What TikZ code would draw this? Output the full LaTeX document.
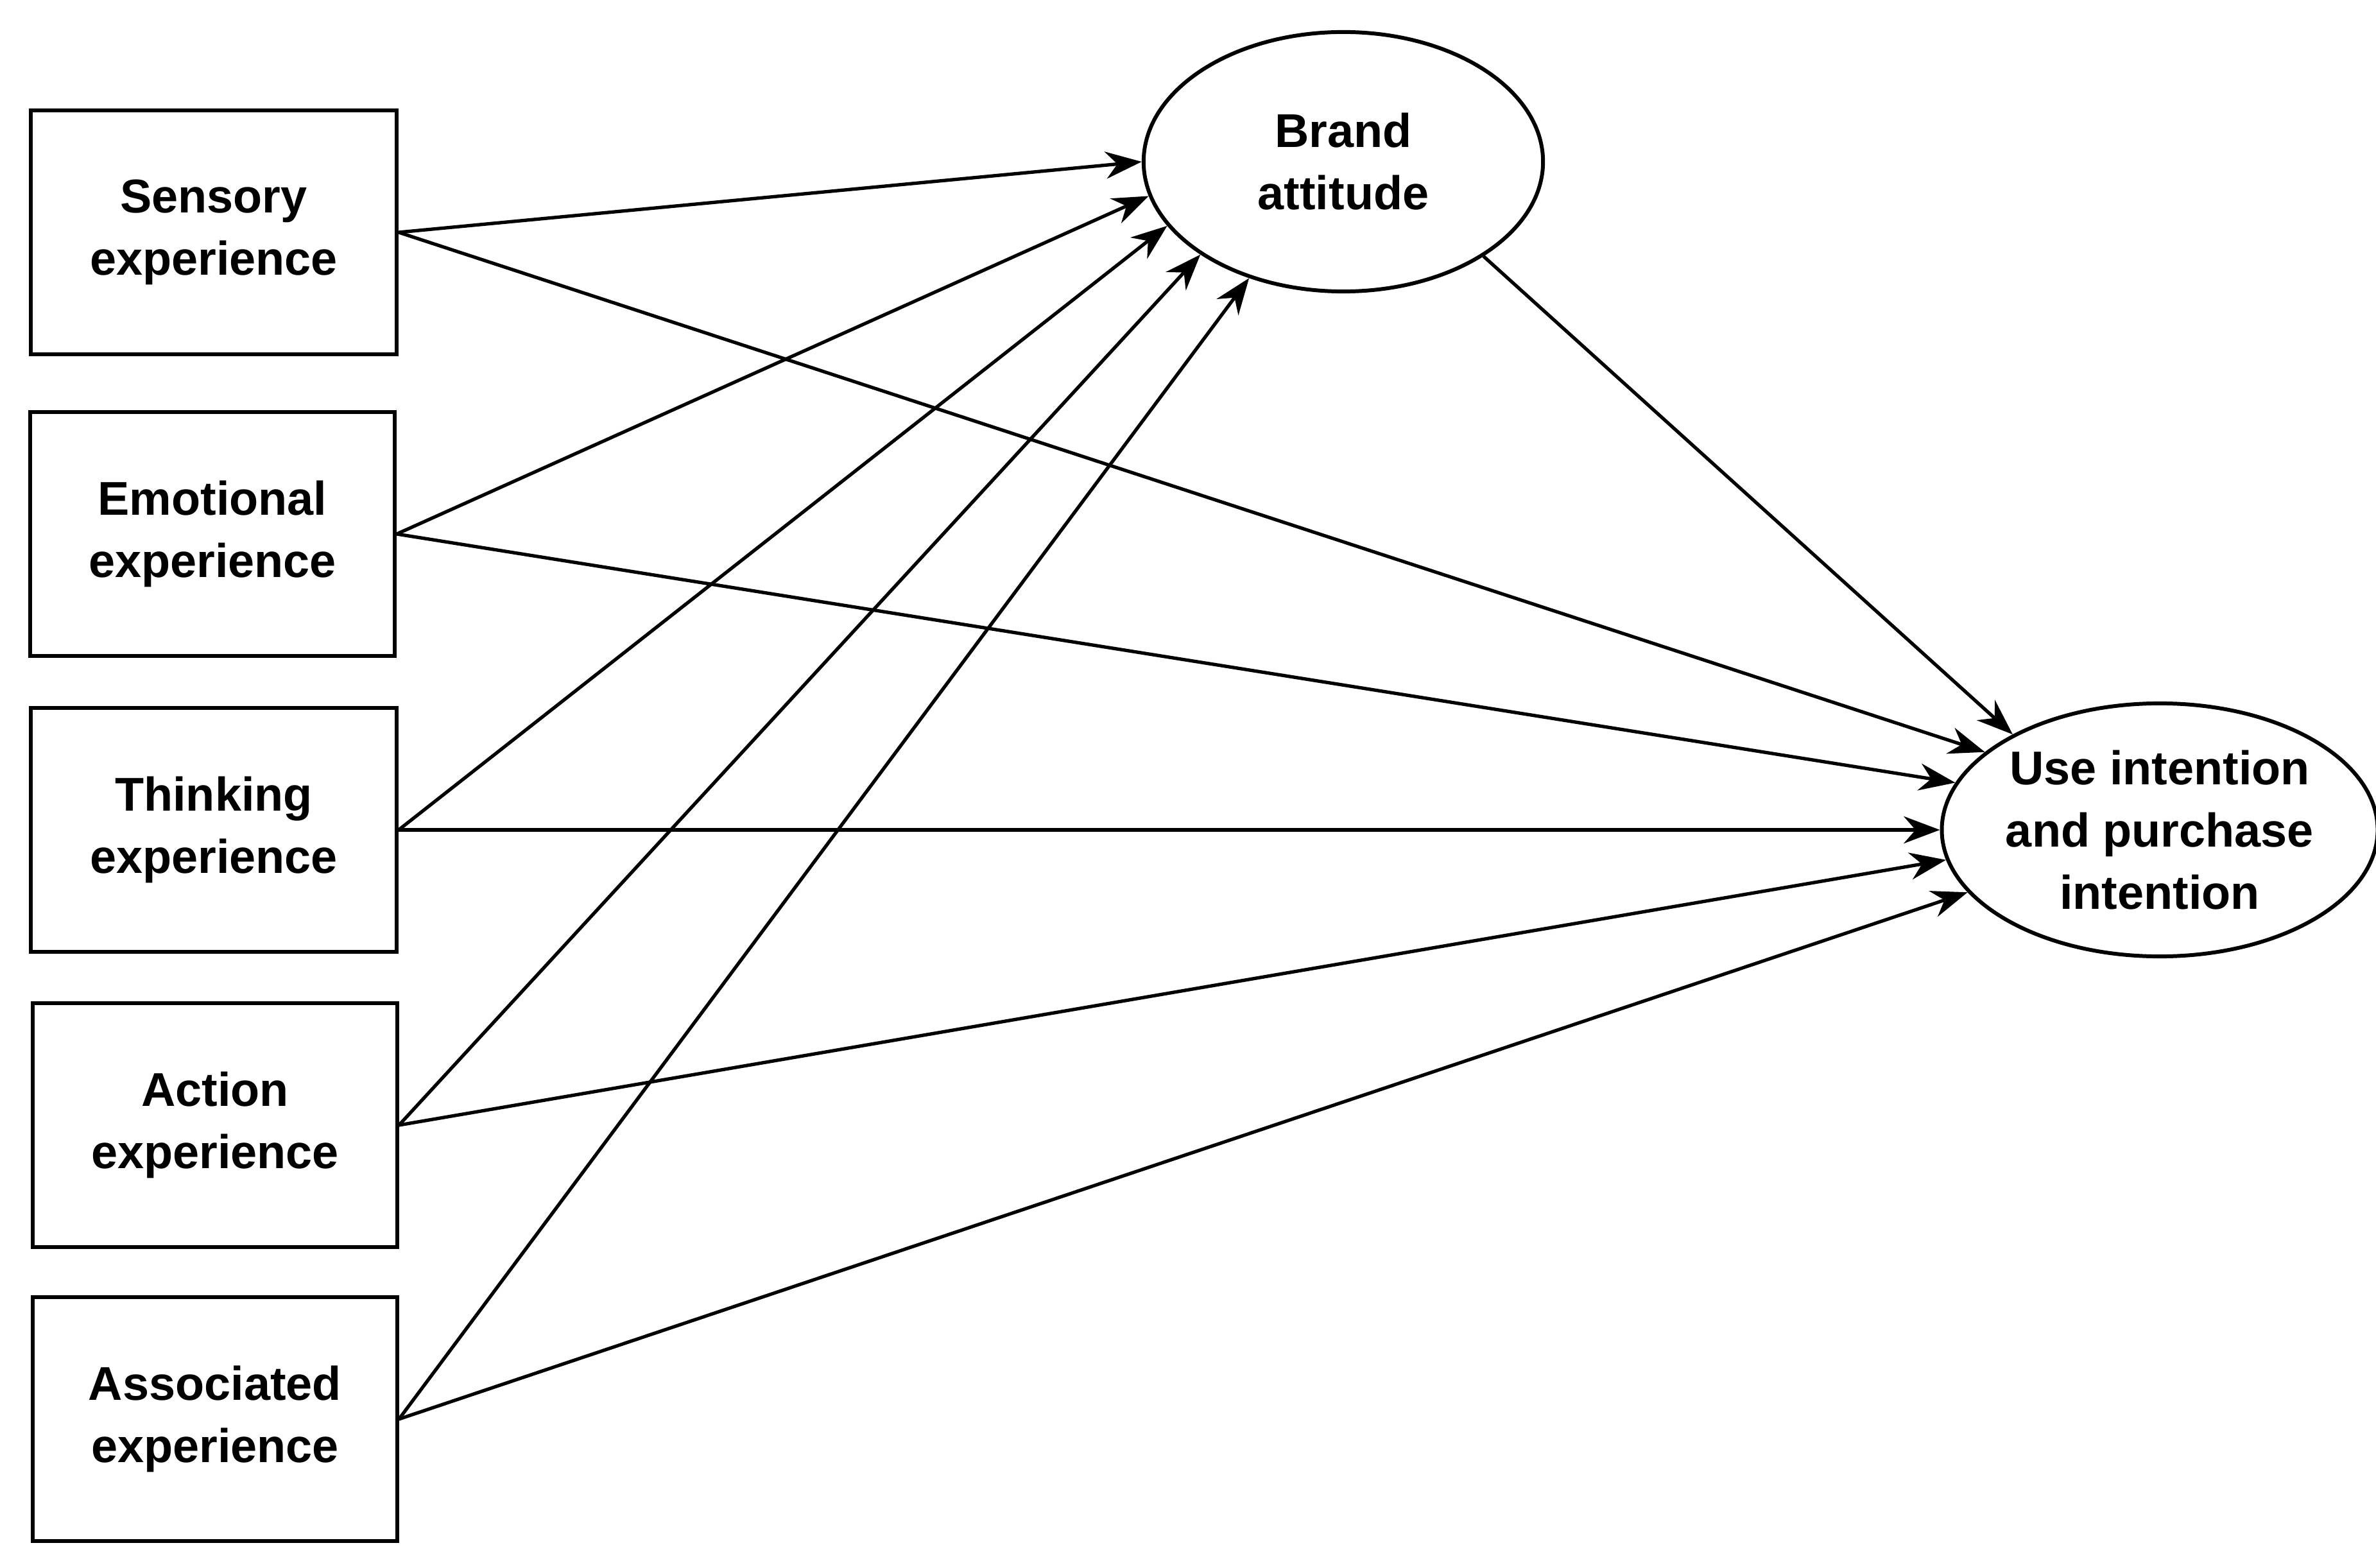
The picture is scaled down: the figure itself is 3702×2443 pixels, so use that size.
\documentclass[tikz,border=0pt]{standalone}
\usepackage{fontspec}
\setmainfont{Liberation Sans}
\usetikzlibrary{shapes.geometric,arrows.meta}
\begin{document}
\begin{tikzpicture}[x=0.01cm,y=-0.01cm,
  box/.style={draw,line width=1.7pt,minimum width=5.7cm,minimum height=3.8cm,align=center,font=\fontsize{21}{27.6}\selectfont\bfseries},
  ell/.style={draw,ellipse,line width=1.7pt,align=center,font=\fontsize{21}{27.6}\selectfont\bfseries,inner sep=0pt},
  arr/.style={line width=1.5pt,-{Stealth[length=16pt,width=12pt]}}]
\useasboundingbox (0,0) rectangle (3702,2443);
\node[box] (s) at (333,362) {Sensory\\experience};
\node[box,minimum width=5.68cm] (e) at (331,832) {Emotional\\experience};
\node[box] (t) at (333,1293) {Thinking\\experience};
\node[box,minimum width=5.67cm] (a) at (335,1753) {Action\\experience};
\node[box,minimum width=5.67cm] (as) at (335,2211) {Associated\\experience};
\node[ell,minimum width=6.22cm,minimum height=4.04cm] (b) at (2093,252) {Brand\\attitude};
\node[ell,minimum width=6.16cm,minimum height=3.94cm] (u) at (3365,1293) {Use intention\\and purchase\\intention};
\draw[arr] (s.east) -- (b.180);
\draw[arr] (e.east) -- (b.190);
\draw[arr] (t.east) -- (b.200);
\draw[arr] (a.east) -- (b.213);
\draw[arr] (as.east) -- (b.231);
\draw[arr] (b.326) -- (u.147);
\draw[arr] (s.east) -- (u.156);
\draw[arr] (e.east) -- (u.167.5);
\draw[arr] (t.east) -- (u.180);
\draw[arr] (a.east) -- (u.188.5);
\draw[arr] (as.east) -- (u.198.6);
\end{tikzpicture}
\end{document}
